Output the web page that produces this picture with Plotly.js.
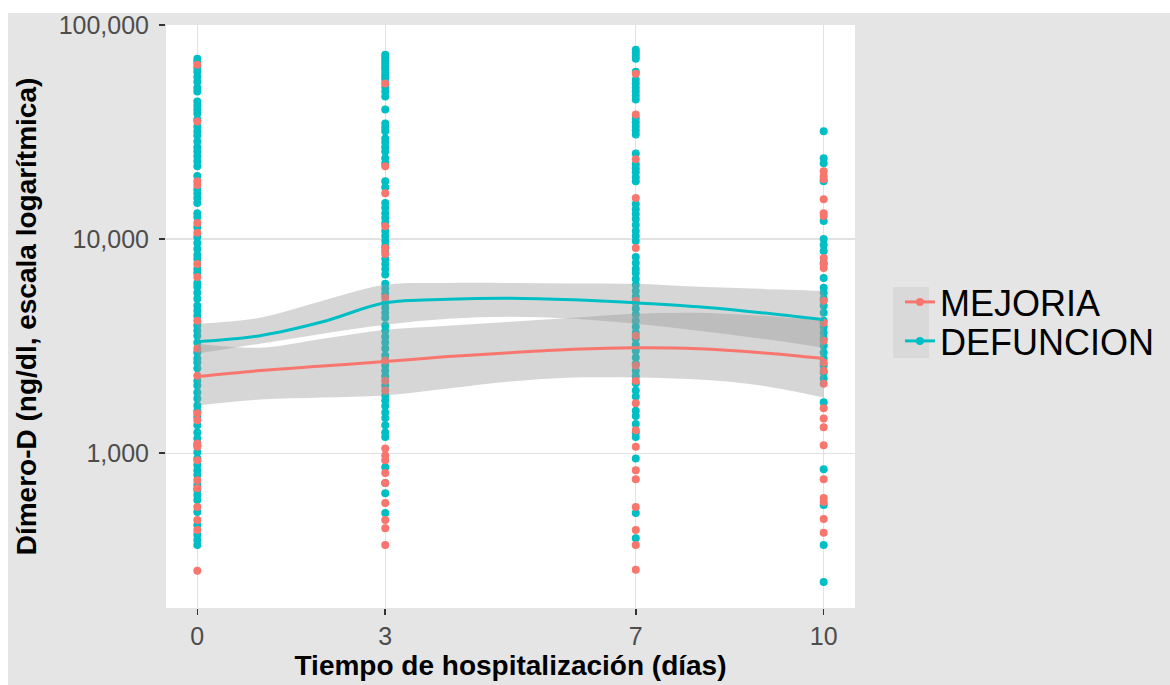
<!DOCTYPE html>
<html>
<head>
<meta charset="utf-8">
<script src="https://cdn.plot.ly/plotly-3.0.1.min.js"></script>
<style>
  html, body { margin: 0; padding: 0; background: #ffffff; width: 1170px; height: 685px; overflow: hidden; }
  #chart { position: absolute; left: 0; top: 0; width: 1170px; height: 685px; }
</style>
</head>
<body>
<div id="chart"></div>
<script>
// ---- data ----
const days = [0, 3, 7, 10];
const dayLabels = ["0", "3", "7", "10"];
const yTickVals = [1000, 10000, 100000];
const yTickText = ["1,000", "10,000", "100,000"];
const seriesNames = ["MEJORIA", "DEFUNCION"];

const mejoriaDia0 = [65300, 35460, 18640, 17900, 11900, 10700, 7650, 6650, 4157, 3080, 2300, 1535, 1423, 1110, 1070, 927, 748, 686, 560, 487, 438, 282];
const mejoriaDia3 = [53300, 21900, 16400, 11500, 9080, 8520, 5320, 2710, 2180, 1960, 1050, 976, 927, 808, 725, 585, 487, 446, 372];
const mejoriaDia7 = [59300, 38200, 23600, 15550, 9080, 5150, 3540, 2570, 2180, 1710, 1278, 1070, 833, 756, 560, 438, 372, 285];
const mejoriaDia10 = [20750, 19670, 19050, 15380, 13230, 12810, 8170, 7650, 7340, 5150, 4070, 3354, 2650, 2430, 2110, 1620, 1450, 1320, 1090, 756, 617, 592, 492, 425];

const defuncionDia0 = [69700, 67500, 63300, 60600, 57400, 54450, 51000, 48900, 43950, 42100, 40350, 38650, 36200, 33600, 31900, 30500, 28600, 26900, 25700, 24400, 23100, 21900, 19700, 17100, 16400, 15550, 14750, 13230, 12680, 11380, 10220, 9590, 8990, 8430, 8080, 7260, 6950, 6240, 5990, 5610, 5260, 4890, 4630, 4390, 3950, 3730, 3540, 3290, 2950, 2770, 2650, 2490, 2180, 2070, 1920, 1800, 1670, 1580, 1480, 1350, 1250, 1170, 1090, 1010, 945, 880, 833, 790, 710, 672, 637, 604, 531, 462, 416, 393, 372];
const defuncionDia3 = [72750, 70450, 68200, 66000, 63950, 61900, 59300, 57400, 55600, 51400, 48900, 46400, 40350, 34700, 33250, 31900, 29560, 28300, 26900, 25700, 23850, 22600, 18640, 17480, 14750, 14000, 13230, 12550, 11900, 10910, 10350, 9800, 9280, 8800, 8080, 7650, 7260, 6840, 6180, 5860, 5550, 5040, 4780, 4530, 4290, 3950, 3730, 3500, 3290, 3080, 2860, 2700, 2570, 2430, 2290, 2070, 1860, 1760, 1660, 1550, 1460, 1350, 1250, 1190, 860, 725, 650, 525];
const defuncionDia7 = [76700, 74300, 71950, 69700, 60600, 55600, 53300, 51000, 48900, 46900, 44900, 36600, 35090, 33600, 32200, 30850, 25160, 22370, 21420, 20530, 19450, 18640, 14600, 13800, 13090, 12410, 11630, 10910, 10350, 9800, 8250, 7740, 7260, 6950, 6520, 6110, 5730, 5380, 5040, 4730, 4440, 4157, 3900, 3650, 3430, 3210, 3013, 2800, 2620, 2430, 2290, 2120, 1960, 1840, 1580, 1490, 1370, 1250, 1190, 945, 525, 400];
const defuncionDia10 = [31900, 23850, 22600, 18640, 12140, 10010, 9390, 8800, 7740, 6590, 5920, 5610, 5260, 4890, 4530, 4157, 3900, 3650, 3430, 3180, 2950, 2770, 2570, 2380, 2230, 1730, 842, 573, 372, 250];

// loess fit and confidence band
const xSuavizado = [0, 1, 2, 3, 4, 5, 6, 7, 8, 9, 10];
const mejoriaAjuste = [2280, 2432, 2553, 2679, 2826, 2949, 3062, 3112, 3079, 2949, 2766];
const mejoriaIcInf = [1671, 1782, 1820, 1860, 2005, 2161, 2256, 2256, 2208, 2071, 1820];
const mejoriaIcSup = [3248, 3112, 3427, 3775, 3940, 4111, 4292, 4481, 4529, 4385, 4157];
const defuncionAjuste = [3318, 3540, 4111, 5041, 5234, 5291, 5206, 5041, 4830, 4529, 4202];
const defuncionIcInf = [2918, 3248, 3615, 3982, 4246, 4338, 4246, 4024, 3734, 3427, 3112];
const defuncionIcSup = [4024, 4292, 5150, 6114, 6246, 6246, 6213, 6180, 5984, 5857, 5733];

// ---- styles ----
const colMejoria = "#F8766D";
const colDefuncion = "#00BFC4";
const bandFill = "rgba(153,153,153,0.4)";
const FONT = "'Liberation Sans', Arial, Helvetica, sans-serif";

function stack(groups) {
  const xs = [], ys = [];
  groups.forEach((g, i) => g.forEach(v => { xs.push(days[i]); ys.push(v); }));
  return { x: xs, y: ys };
}
const ptsMej = stack([mejoriaDia0, mejoriaDia3, mejoriaDia7, mejoriaDia10]);
const ptsDef = stack([defuncionDia0, defuncionDia3, defuncionDia7, defuncionDia10]);

function pointTrace(p, col) {
  return { type: "scatter", mode: "markers", x: p.x, y: p.y, showlegend: false, hoverinfo: "skip",
           marker: { color: col, size: 8, line: { width: 0 } } };
}
function bandTraces(lo, hi) {
  return [
    { type: "scatter", mode: "lines", x: xSuavizado, y: lo, line: { width: 0, shape: "spline" }, showlegend: false, hoverinfo: "skip" },
    { type: "scatter", mode: "lines", x: xSuavizado, y: hi, line: { width: 0, shape: "spline" }, fill: "tonexty", fillcolor: bandFill, showlegend: false, hoverinfo: "skip" }
  ];
}
function lineTrace(fit, col) {
  return { type: "scatter", mode: "lines", x: xSuavizado, y: fit, line: { color: col, width: 3, shape: "spline" }, showlegend: false, hoverinfo: "skip" };
}
function legendTrace(name, col, leg) {
  return { type: "scatter", mode: "lines+markers", x: [null], y: [null], name: name, legend: leg,
           line: { color: col, width: 3 }, marker: { color: col, size: 8 }, showlegend: true };
}

const data = [
  pointTrace(ptsDef, colDefuncion),
  pointTrace(ptsMej, colMejoria),
  ...bandTraces(mejoriaIcInf, mejoriaIcSup),
  lineTrace(mejoriaAjuste, colMejoria),
  ...bandTraces(defuncionIcInf, defuncionIcSup),
  lineTrace(defuncionAjuste, colDefuncion),
  legendTrace(seriesNames[0], colMejoria, "legend"),
  legendTrace(seriesNames[1], colDefuncion, "legend2")
];

const tickFont = { family: FONT, size: 25, color: "#4D4D4D" };
const titleFont = { family: FONT, size: 28, color: "#000000", weight: "bold" };
const legFont = { family: FONT, size: 36, color: "#000000" };

const layout = {
  width: 1170, height: 685,
  margin: { l: 166, r: 315, t: 25, b: 77, pad: 0 },
  paper_bgcolor: "#E5E5E5",
  plot_bgcolor: "#FFFFFF",
  showlegend: true,
  xaxis: {
    range: [-0.5, 10.5], tickmode: "array", tickvals: days, ticktext: dayLabels,
    showgrid: true, gridcolor: "#E2E2E2", gridwidth: 1.3, zeroline: false, showline: false,
    ticks: "outside", ticklen: 6, tickwidth: 1.5, tickcolor: "#333333",
    tickfont: tickFont, ticklabeloverflow: "allow",
    title: { text: "Tiempo de hospitalización (días)", font: titleFont, standoff: 6 }
  },
  yaxis: {
    type: "log", range: [Math.log10(189), 5.0006], tickmode: "array", tickvals: yTickVals, ticktext: yTickText,
    showgrid: true, gridcolor: "#E2E2E2", gridwidth: 1.3, zeroline: false, showline: false,
    ticks: "outside", ticklen: 6, tickwidth: 1.5, tickcolor: "#333333",
    tickfont: tickFont, ticklabeloverflow: "allow", ticklabelstandoff: 5,
    title: { text: "Dímero-D (ng/dl, escala logarítmica)", font: titleFont, standoff: 13 }
  },
  legend: { xref: "container", yref: "container", x: 0.7692, y: 0.5591, xanchor: "left", yanchor: "middle",
            bgcolor: "rgba(0,0,0,0)", font: legFont, itemwidth: 30 },
  legend2: { xref: "container", yref: "container", x: 0.7692, y: 0.5022, xanchor: "left", yanchor: "middle",
             bgcolor: "rgba(0,0,0,0)", font: legFont, itemwidth: 30 },
  shapes: [
    // white page border (left and top) around the grey background
    { type: "rect", xref: "paper", yref: "paper", x0: -0.25, x1: -0.2293, y0: -0.14, y1: 1.05,
      fillcolor: "#FFFFFF", line: { width: 0 }, layer: "below" },
    { type: "rect", xref: "paper", yref: "paper", x0: -0.25, x1: 1.46, y0: 1.0206, y1: 1.05,
      fillcolor: "#FFFFFF", line: { width: 0 }, layer: "below" },
    // legend key background
    { type: "rect", xref: "paper", yref: "paper", x0: 1.0552, x1: 1.1074, y0: 0.4288, y1: 0.5506,
      fillcolor: "#D9D9D9", line: { width: 0 }, layer: "above" }
  ]
};

Plotly.newPlot("chart", data, layout, { staticPlot: true, displayModeBar: false });
</script>
</body>
</html>
